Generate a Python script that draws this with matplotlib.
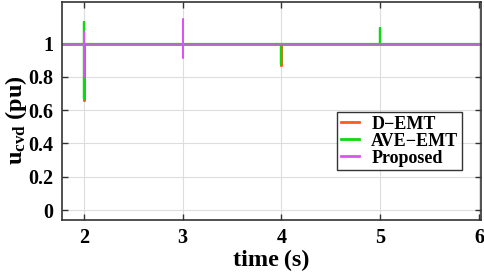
import matplotlib
matplotlib.use("Agg")
from matplotlib import pyplot as plt

# series: (time, value) breakpoints, flat at 1 pu with short transients
d_emt_t = [1.78, 2.0, 2.0, 2.0, 4.0, 4.0, 4.0, 6.02]
d_emt_v = [1.0, 1.0, 0.66, 1.0, 1.0, 0.87, 1.0, 1.0]

ave_t = [1.78, 2.0, 2.0, 2.0, 2.0, 4.0, 4.0, 4.0, 5.0, 5.0, 5.0, 6.02]
ave_v = [1.0, 1.0, 1.13, 0.665, 1.0, 1.0, 0.875, 1.0, 1.0, 1.096, 1.0, 1.0]

prop_t = [1.78, 2.0, 2.0, 2.0, 2.0, 3.0, 3.0, 3.0, 3.0, 6.02]
prop_v = [1.0, 1.0, 1.07, 0.80, 1.0, 1.0, 1.145, 0.915, 1.0, 1.0]

xticks = [2, 3, 4, 5, 6]
yticks = [0, 0.2, 0.4, 0.6, 0.8, 1]
ytick_labels = ["0", "0.2", "0.4", "0.6", "0.8", "1"]

plt.rcParams['font.family'] = ['Liberation Serif', 'DejaVu Serif']
plt.rcParams['font.weight'] = 'bold'
plt.rcParams['mathtext.fontset'] = 'custom'
plt.rcParams['mathtext.rm'] = 'Liberation Serif:bold'
plt.rcParams['mathtext.bf'] = 'Liberation Serif:bold'

fig = plt.figure(figsize=(4.84, 2.73), dpi=100)
ax = fig.add_axes([62 / 484, 53 / 273, 419 / 484, 218 / 273])

ax.plot(d_emt_t, d_emt_v, c='#FF5A1E', lw=2.0, label='D\u2212EMT')
ax.plot(ave_t, ave_v, c='#10D810', lw=1.6, label='AVE\u2212EMT')
ax.plot(prop_t, prop_v, c='#E050F8', lw=1.1, label='Proposed')

ax.set_xlim(1.78, 6.02)
ax.set_ylim(-0.06, 1.25)
ax.set_xticks(xticks)
ax.set_yticks(yticks)
ax.set_yticklabels(ytick_labels)
ax.grid(True, color='#dddddd', lw=0.8)
ax.tick_params(direction='in', top=True, right=True, length=4, width=1,
               labelsize=14.5, colors='#333333', labelcolor='black', pad=6)
for s in ax.spines.values():
    s.set_color('#333333')
    s.set_linewidth(1.2)

ax.set_xlabel('time\u2009(s)', fontsize=17.5, fontweight='bold', labelpad=1)
ax.set_ylabel(r'$\mathrm{u_{cvd}}$ (pu)', fontsize=17.5, fontweight='bold')
ax.yaxis.set_label_coords(-0.078, 0.46)

leg = ax.legend(loc='upper left', bbox_to_anchor=(275 / 419, (220 - 112) / 218),
                fontsize=13, frameon=True, fancybox=False, handlelength=1.0,
                borderpad=0.2, labelspacing=0.0, handletextpad=0.7,
                borderaxespad=0.0)
leg.get_frame().set_edgecolor('black')
leg.get_frame().set_linewidth(1.0)
for line in leg.get_lines():
    line.set_linewidth(2)

fig.savefig('out.png', dpi=100)
